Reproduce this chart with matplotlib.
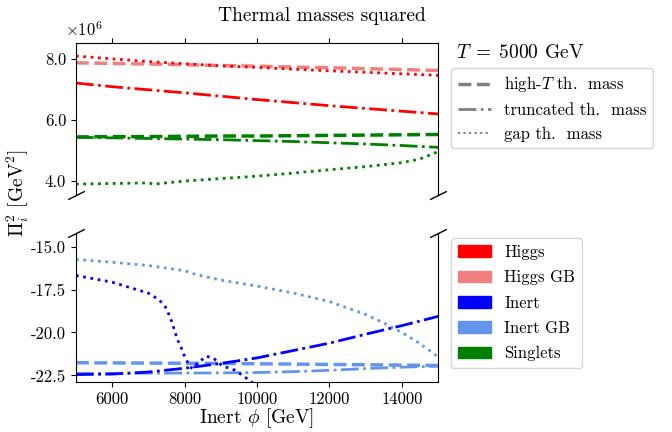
import matplotlib
matplotlib.use("Agg")
import matplotlib.pyplot as plt
from matplotlib.lines import Line2D
from matplotlib.patches import Patch
from matplotlib.ticker import FormatStrFormatter

plt.rcParams['font.family'] = 'cmr10'
plt.rcParams['mathtext.fontset'] = 'cm'
plt.rcParams['axes.unicode_minus'] = False
plt.rcParams['axes.formatter.use_mathtext'] = True

# upper panel, values in units of 1e6 GeV^2
x = [5000, 6000, 7000, 8000, 9000, 10000, 11000, 12000, 13000, 14000, 15000]
higgs_gap = [8.08, 7.99, 7.90, 7.83, 7.76, 7.71, 7.65, 7.60, 7.55, 7.50, 7.45]
higgs_gb_high = [7.86, 7.84, 7.82, 7.80, 7.77, 7.75, 7.72, 7.70, 7.67, 7.64, 7.61]
higgs_trunc = [7.20, 7.08, 6.98, 6.88, 6.77, 6.66, 6.56, 6.46, 6.37, 6.28, 6.19]
singlet_high = [5.44, 5.45, 5.45, 5.46, 5.47, 5.47, 5.48, 5.49, 5.50, 5.51, 5.52]
singlet_trunc = [5.43, 5.41, 5.39, 5.37, 5.35, 5.32, 5.29, 5.25, 5.21, 5.16, 5.10]
x_singlet_gap = [5000, 6000, 7000, 7150, 8000, 9000, 10000, 11000, 12000, 13000, 14000, 14500, 15000]
singlet_gap = [3.90, 3.92, 3.94, 3.90, 4.00, 4.08, 4.16, 4.26, 4.37, 4.47, 4.60, 4.72, 4.96]

# lower panel
inert_trunc = [-22.45, -22.42, -22.30, -22.08, -21.80, -21.48, -21.05, -20.62, -20.10, -19.60, -19.06]
inert_gb_high = [-21.76, -21.77, -21.78, -21.79, -21.80, -21.82, -21.84, -21.86, -21.88, -21.90, -21.92]
inert_gb_trunc = [-22.38, -22.38, -22.37, -22.36, -22.35, -22.33, -22.28, -22.20, -22.10, -22.02, -21.96]
x_gb_gap = [5000, 6000, 7000, 8000, 8300, 9000, 10000, 11000, 12000, 13000, 13500, 14000, 14500, 15000]
inert_gb_gap = [-15.75, -15.91, -16.10, -16.40, -16.62, -16.95, -17.30, -17.70, -18.20, -18.95, -19.45, -20.00, -20.65, -21.42]
x_inert_gap = [5000, 6000, 7000, 7300, 7500, 7650, 7800, 7900, 8000, 8150, 8220, 8350, 8600, 8800, 9050, 9400, 9800, 10100]
inert_gap = [-16.68, -17.07, -17.71, -18.10, -18.60, -19.40, -20.40, -20.85, -21.40, -22.00, -22.10, -21.80,
             -21.38, -21.50, -21.95, -22.20, -22.80, -23.30]

fig = plt.figure(figsize=(6.72, 4.32), dpi=100)
ax1 = fig.add_axes([0.113, 0.549, 0.539, 0.351])
ax2 = fig.add_axes([0.113, 0.115, 0.539, 0.346])

ax1.plot(x, higgs_gb_high, color='lightcoral', ls='--', lw=2.5)
ax1.plot(x, higgs_gap, color='red', ls=':', lw=2)
ax1.plot(x, higgs_trunc, color='red', ls='-.', lw=2)
ax1.plot(x, singlet_high, color='green', ls='--', lw=2.5)
ax1.plot(x, singlet_trunc, color='green', ls='-.', lw=2)
ax1.plot(x_singlet_gap, singlet_gap, color='green', ls=':', lw=2)

ax2.plot(x, inert_gb_high, color='cornflowerblue', ls='--', lw=2.5)
ax2.plot(x, inert_gb_trunc, color='cornflowerblue', ls='-.', lw=2)
ax2.plot(x_gb_gap, inert_gb_gap, color='cornflowerblue', ls=':', lw=2)
ax2.plot(x, inert_trunc, color='blue', ls='-.', lw=2)
ax2.plot(x_inert_gap, inert_gap, color='blue', ls=':', lw=2)

for ax in (ax1, ax2):
    ax.set_xlim(5000, 15000)
    ax.tick_params(labelsize=12)
    ax.yaxis.set_major_formatter(FormatStrFormatter('%.1f'))
ax1.set_ylim(3.55, 8.5)
ax1.set_yticks([4.0, 6.0, 8.0])
ax2.set_ylim(-22.9, -14.2)
ax2.set_yticks([-15.0, -17.5, -20.0, -22.5])
ax2.set_xticks([6000, 8000, 10000, 12000, 14000])
ax2.xaxis.set_major_formatter(FormatStrFormatter('%d'))

ax1.spines['bottom'].set_visible(False)
ax2.spines['top'].set_visible(False)
ax1.xaxis.tick_top()
ax1.tick_params(labeltop=False)
ax1.set_xticks([6000, 8000, 10000, 12000, 14000])
ax2.xaxis.tick_bottom()

d = 0.5
kw = dict(marker=[(-1, -d), (1, d)], markersize=12, linestyle='none', color='k', mec='k', mew=1, clip_on=False)
ax1.plot([0, 1], [0, 0], transform=ax1.transAxes, **kw)
ax2.plot([0, 1], [1, 1], transform=ax2.transAxes, **kw)

ax1.text(-0.03, 1.03, r'$\times10^{6}$', transform=ax1.transAxes, fontsize=12, ha='left', va='bottom')

ax2.set_xlabel(r'Inert $\phi$ [GeV]', fontsize=14, labelpad=-1)
fig.text(0.027, 0.553, r'$\Pi_i^2$ [GeV$^2$]', rotation=90, fontsize=14, ha='center', va='center')
fig.suptitle('Thermal masses squared', x=0.479, y=0.963, fontsize=14, va='center')

fig.text(0.678, 0.877, r'$T\;=\;5000$ GeV', fontsize=14, ha='left', va='center')
style_handles = [Line2D([], [], color='gray', ls='--', lw=2.5),
                 Line2D([], [], color='gray', ls='-.', lw=2),
                 Line2D([], [], color='gray', ls=':', lw=1.5)]
style_labels = [r'high-$T$ th.  mass', 'truncated th.  mass', 'gap th.  mass']
fig.legend(style_handles, style_labels, loc='upper left', bbox_to_anchor=(0.671, 0.843),
           fontsize=12, borderaxespad=0, handlelength=2)

colors = ['red', 'lightcoral', 'blue', 'cornflowerblue', 'green']
names = ['Higgs', 'Higgs GB', 'Inert', 'Inert GB', 'Singlets']
fig.legend([Patch(color=c) for c in colors], names, loc='upper left', bbox_to_anchor=(0.671, 0.449),
           fontsize=12, borderaxespad=0, handlelength=2, labelspacing=0.6)

fig.savefig('out.png', dpi=100)
